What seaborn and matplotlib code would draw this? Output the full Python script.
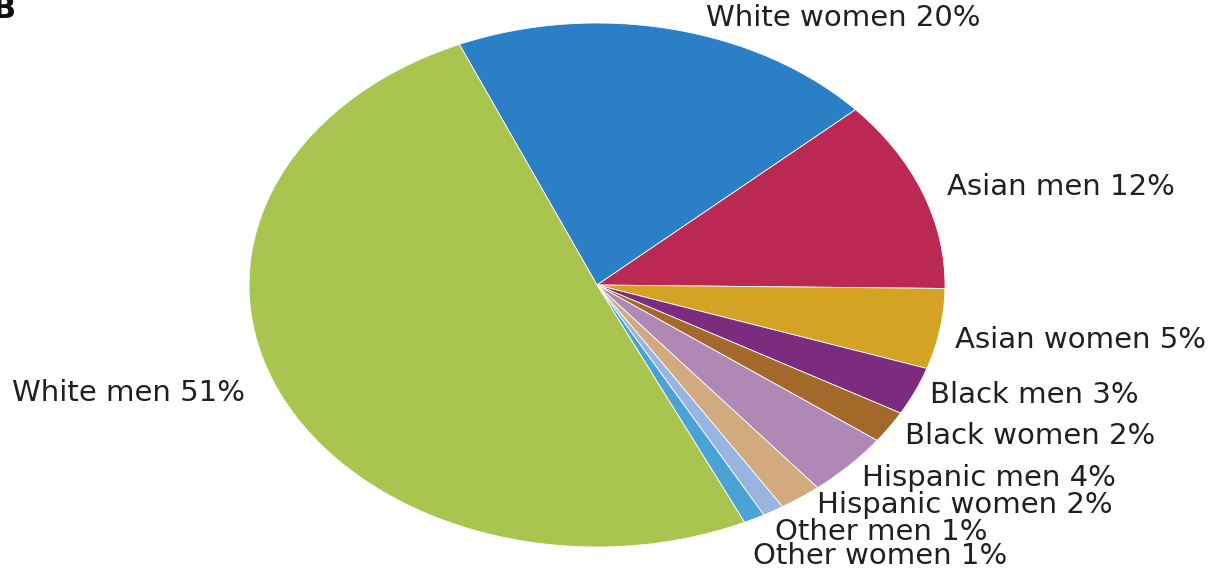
import matplotlib
matplotlib.use("Agg")
import matplotlib.pyplot as plt
import seaborn as sns

# ---- data ----
categories = ["White women", "Asian men", "Asian women", "Black men", "Black women",
              "Hispanic men", "Hispanic women", "Other men", "Other women", "White men"]
shares = [20, 12, 5, 3, 2, 4, 2, 1, 1, 51]
colors = ["#2b7fc4", "#bb2853", "#d5a323", "#7d2b7e", "#a4692a",
          "#b088b6", "#d2aa80", "#9ab4e0", "#4aa3d4", "#a9c44f"]
panel_label = "B"

sns.set_theme(style="white")
plt.rcParams['font.family'] = ['DejaVu Sans']

W, H = 1214, 571
fig = plt.figure(figsize=(W / 100, H / 100), dpi=100)
ax = fig.add_axes([0, 0, 1, 1])

# ellipse geometry in pixels
cx, cy, rx, ry = 597, 285, 348, 262

ax.pie(shares, colors=colors, startangle=113.3, counterclock=False,
       wedgeprops=dict(edgecolor="white", linewidth=0.6))
ax.set_aspect("auto")
ax.set_xlim(-cx / rx, (W - cx) / rx)
ax.set_ylim(-(H - cy) / ry, cy / ry)
ax.axis("off")


def px(x, y):
    return (x - cx) / rx, (cy - y) / ry


label_pos = [(706, 18), (947, 187), (955, 340), (930, 395), (905, 436),
             (862, 478), (817, 505), (775, 532), (753, 556), (12, 393)]
for cat, val, (lx, ly) in zip(categories, shares, label_pos):
    ax.text(*px(lx, ly), f"{cat} {val}%", ha="left", va="center",
            fontsize=21, color="#231f20")

ax.text(*px(-8, 10), panel_label, ha="left", va="center", fontsize=22,
        fontweight="bold", color="#111111")

fig.savefig("out.png", dpi=100)
